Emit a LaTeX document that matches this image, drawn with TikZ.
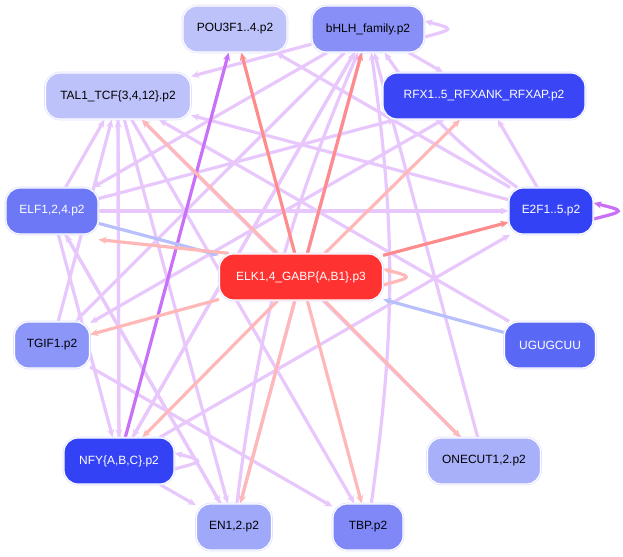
\documentclass[tikz,border=0pt]{standalone}
\usepackage{fontspec}
\setmainfont{Liberation Sans}
\usetikzlibrary{arrows.meta}
\pgfdeclarelayer{bg}
\pgfsetlayers{bg,main}
\begin{document}
\begin{tikzpicture}[x=1bp,y=-1bp,
 nd/.style={rounded corners=14bp, minimum height=46bp, inner sep=2bp, font=\fontsize{12}{13}\selectfont,
   draw=white, line width=1.2pt, preaction={draw=blue!12, line width=2.6pt}},
 e/.style={line width=3.2bp, draw=#1, -{Stealth[length=8bp,width=7bp]}},
 e/.default=lv,
]
\definecolor{lv}{HTML}{E8C8FC}
\definecolor{dv}{HTML}{C870F8}
\definecolor{rd}{HTML}{FF8C8C}
\definecolor{pk}{HTML}{FFB8B8}
\definecolor{bl}{HTML}{B8C0FC}
\useasboundingbox (0,0) rectangle (623,557);
\node[nd,fill={rgb,255:red,190;green,194;blue,250},minimum width=104bp] (pou) at (235,29) {POU3F1..4.p2};
\node[nd,fill={rgb,255:red,136;green,144;blue,248},minimum width=112bp] (bhlh) at (368,29) {bHLH\_family.p2};
\node[nd,fill={rgb,255:red,190;green,194;blue,250},minimum width=145bp] (tal) at (118,96) {TAL1\_TCF\{3,4,12\}.p2};
\node[nd,fill={rgb,255:red,58;green,70;blue,245},text=white,minimum width=202bp] (rfx) at (484,96) {RFX1..5\_RFXANK\_RFXAP.p2};
\node[nd,fill={rgb,255:red,108;green,120;blue,246},text=white,minimum width=92bp] (elf) at (52,211) {ELF1,2,4.p2};
\node[nd,fill={rgb,255:red,52;green,66;blue,245},text=white,minimum width=84bp] (e2f) at (551,211) {E2F1..5.p2};
\node[nd,fill={rgb,255:red,255;green,50;blue,50},text=white,minimum width=163bp] (elk) at (301,277) {ELK1,4\_GABP\{A,B1\}.p3};
\node[nd,fill={rgb,255:red,140;green,150;blue,248},minimum width=75bp] (tgif) at (52,345) {TGIF1.p2};
\node[nd,fill={rgb,255:red,90;green,104;blue,246},text=white,minimum width=91bp] (ugu) at (550,345) {UGUGCUU};
\node[nd,fill={rgb,255:red,52;green,66;blue,245},text=white,minimum width=110bp] (nfy) at (119,461) {NFY\{A,B,C\}.p2};
\node[nd,fill={rgb,255:red,168;green,176;blue,250},minimum width=113bp] (one) at (484,461) {ONECUT1,2.p2};
\node[nd,fill={rgb,255:red,160;green,168;blue,250},minimum width=75bp] (en) at (234,527) {EN1,2.p2};
\node[nd,fill={rgb,255:red,128;green,136;blue,248},minimum width=70bp] (tbp) at (368,527) {TBP.p2};
\begin{pgfonlayer}{bg}
\draw[e] (bhlh) -- (tal);
\draw[e] (bhlh) -- (rfx);
\draw[e] ([yshift=-8bp]bhlh.east) .. controls +(30,-8) and +(30,8) .. ([yshift=8bp]bhlh.east);
\draw[e] (bhlh) -- (elf);
\draw[e] (bhlh) -- (tgif);
\draw[e] (bhlh) -- (nfy);
\draw[e] (e2f) to[bend left=10] (bhlh);
\draw[e] (e2f) -- (pou);
\draw[e] (e2f) -- (tal);
\draw[e] (e2f) -- (rfx);
\draw[e] (elf) -- (e2f);
\draw[e] (elf) -- (rfx);
\draw[e] (elf) -- (tal);
\draw[e] (elf) -- (en);
\draw[e] (elf) -- (nfy);
\draw[e] (tgif) -- (tal);
\draw[e] (tgif) -- (tbp);
\draw[e] (nfy) -- (tal);
\draw[e] (nfy) -- (bhlh);
\draw[e] (nfy) -- (e2f);
\draw[e] (nfy) -- (en);
\draw[e] ([yshift=-8bp]nfy.east) .. controls +(30,-8) and +(30,8) .. ([yshift=8bp]nfy.east);
\draw[e] (tal) -- (en);
\draw[e] (tal) -- (nfy);
\draw[e] (tal) -- (tbp);
\draw[e] (one) -- (tal);
\draw[e] (one) -- (bhlh);
\draw[e] (tbp) to[bend right=8] (bhlh);
\draw[e] (en) to[bend left=8] (bhlh);
\draw[e] (en) -- (elf);
\draw[e] (rfx) -- (tgif);
\draw[e] (ugu) -- (tal);
\draw[e] (bhlh) -- (en);
\draw[e=dv] (nfy) -- (pou);
\draw[e=dv] ([yshift=-8bp]e2f.east) .. controls +(32,-8) and +(32,8) .. ([yshift=8bp]e2f.east);
\draw[e=bl] (ugu) -- (elk);
\draw[e=bl] (elf) -- (elk);
\draw[e=pk] (elk) -- (tal);
\draw[e=rd] (elk) -- (pou);
\draw[e=rd] (elk) -- (bhlh);
\draw[e=pk] (elk) -- (rfx);
\draw[e=rd] (elk) -- (e2f);
\draw[e=pk] (elk) -- (tgif);
\draw[e=pk] (elk) -- (nfy);
\draw[e=pk] (elk) -- (en);
\draw[e=pk] (elk) -- (tbp);
\draw[e=pk] (elk) -- (one);
\draw[e=pk] ([xshift=10bp]elk.north west) -- ([yshift=-5bp]elf.south east);
\draw[e=pk] ([yshift=-8bp]elk.east) .. controls +(30,-8) and +(30,8) .. ([yshift=8bp]elk.east);
\end{pgfonlayer}
\end{tikzpicture}
\end{document}
